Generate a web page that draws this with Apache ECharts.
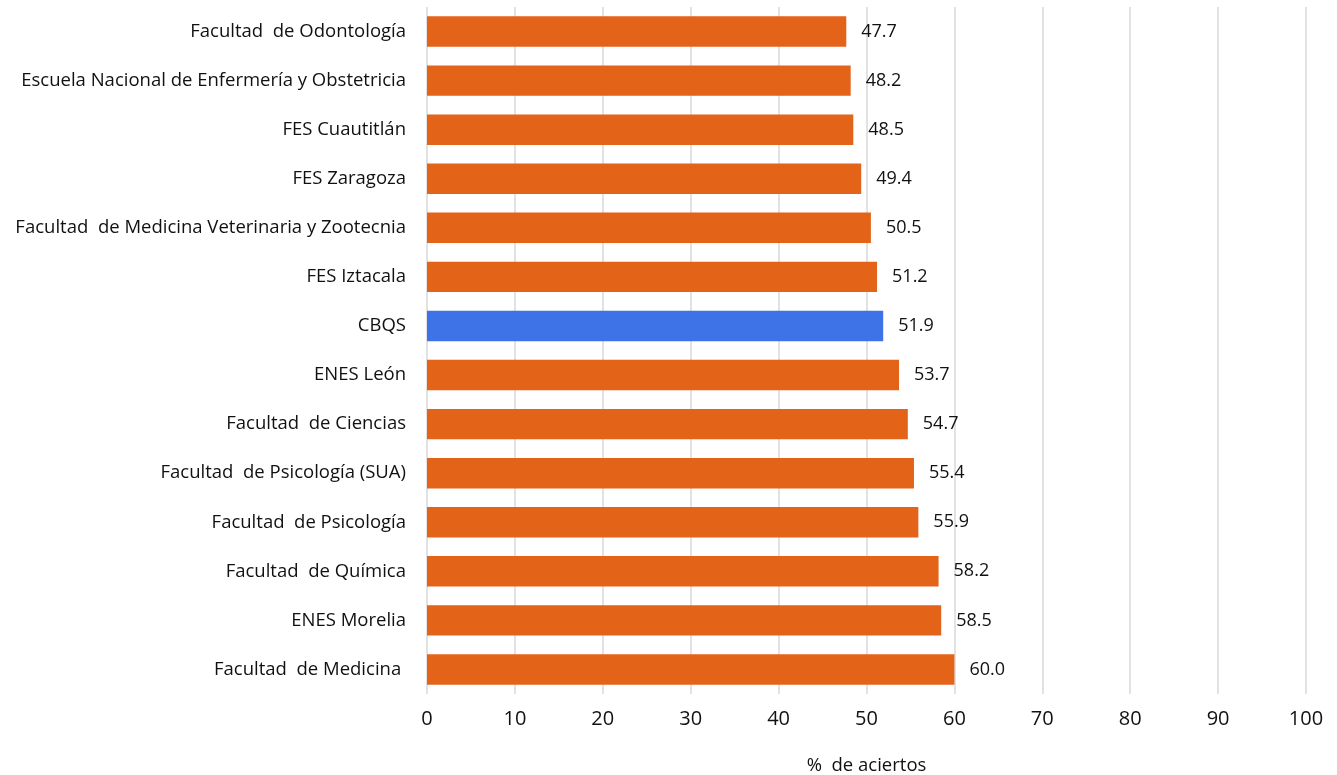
<!DOCTYPE html>
<html><head><meta charset="utf-8">
<script src="https://cdn.jsdelivr.net/npm/echarts@6/dist/echarts.min.js"></script>
<style>html,body{margin:0;padding:0;background:#fff}#c{width:1337px;height:775px}</style>
</head><body><div id="c"></div>
<script>
const categories = ["Facultad  de Odontología","Escuela Nacional de Enfermería y Obstetricia","FES Cuautitlán","FES Zaragoza","Facultad  de Medicina Veterinaria y Zootecnia","FES Iztacala","CBQS","ENES León","Facultad  de Ciencias","Facultad  de Psicología (SUA)","Facultad  de Psicología","Facultad  de Química","ENES Morelia","Facultad  de Medicina "];
const values = [47.7,48.2,48.5,49.4,50.5,51.2,51.9,53.7,54.7,55.4,55.9,58.2,58.5,60.0];
const highlight = "CBQS";
const xTicks = [0,10,20,30,40,50,60,70,80,90,100];
const xTitle = "%  de aciertos";

const chart = echarts.init(document.getElementById('c'));
const font = "'Open Sans', 'Noto Sans', sans-serif";
chart.setOption({
  animation: false,
  grid: {left: 427, right: 31, top: 7, bottom: 81, containLabel: false, outerBoundsMode: 'none'},
  xAxis: {
    type: 'value', min: xTicks[0], max: xTicks[xTicks.length-1], interval: 10,
    name: xTitle, nameLocation: 'middle', nameGap: 62,
    nameTextStyle: {fontFamily: font, fontSize: 18.5, color: '#111'},
    axisLine: {show: false}, axisTick: {show: false},
    axisLabel: {fontFamily: font, fontSize: 20, color: '#111', margin: 15},
    splitLine: {show: true, lineStyle: {color: '#d9d9d9', width: 1.5}}
  },
  yAxis: {
    type: 'category', data: categories, inverse: true,
    axisLine: {show: false}, axisTick: {show: false},
    axisLabel: {fontFamily: font, fontSize: 18.5, color: '#111', margin: 21}
  },
  series: [{
    type: 'bar', data: values.map((v,i)=>({value: v, itemStyle: {color: categories[i]===highlight ? '#3D73E6' : '#E36318'}})),
    barCategoryGap: '38%',
    label: {show: true, position: 'right', distance: 15, formatter: p => p.value.toFixed(1), fontFamily: font, fontSize: 18, color: '#111'}
  }]
});
</script></body></html>
